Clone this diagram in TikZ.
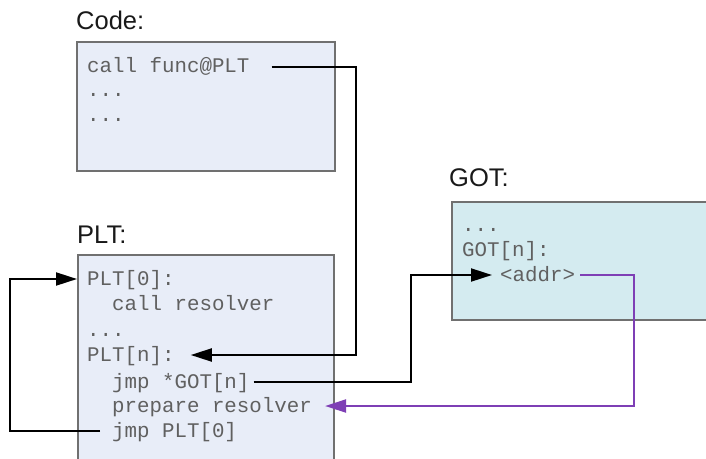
\documentclass[tikz,border=0pt]{standalone}
\usepackage{fontspec}
\setmainfont{Liberation Sans}
\newfontfamily\codefont{Liberation Mono}
\usetikzlibrary{arrows.meta}
\definecolor{boxfill}{HTML}{E8EDF8}
\definecolor{gotfill}{HTML}{D4EBF0}
\definecolor{boxline}{HTML}{707070}
\definecolor{codetext}{HTML}{606060}
\definecolor{purp}{HTML}{7E3FB5}
\tikzset{
  title/.style={anchor=base west, inner sep=0pt, font=\fontsize{25.5}{25.5}\selectfont, text=black!90},
  code/.style={anchor=base west, inner sep=0pt, text height=12pt, text depth=0pt,
    font=\codefont\fontsize{20.8}{20.8}\selectfont, text=codetext},
  memblock/.style={draw=boxline, line width=1.6pt},
  conn/.style={line width=2pt, black, -{Triangle[length=21pt,width=13pt]}},
  pconn/.style={line width=2pt, purp, -{Triangle[length=21pt,width=13pt]}},
}
\begin{document}
\begin{tikzpicture}[x=1pt,y=-1pt]
\useasboundingbox (0,0) rectangle (706,458);
\clip (0,0) rectangle (706,458);
% boxes
\fill[boxfill] (77,42) rectangle (335,171);
\draw[memblock] (77,42) rectangle (335,171);
\fill[boxfill] (78,255) rectangle (334,470);
\draw[memblock] (78,470) -- (78,255) -- (334,255) -- (334,470);
\fill[gotfill] (452,202) rectangle (712,320);
\draw[memblock] (712,202) -- (452,202) -- (452,320) -- (712,320);
% titles
\node[title] (tcode) at (76,29) {Code:};
\node[title] (tplt) at (77,243) {PLT:};
\node[title] (tgot) at (449,186) {GOT:};
% code
\node[code] (callf) at (87,72.5) {call func@PLT};
\node[code] (cd1) at (87,96) {...};
\node[code] (cd2) at (87,121) {...};
% PLT
\node[code] (plt0) at (87,285) {PLT[0]:};
\node[code] (callres) at (87,310) {\ \ call resolver};
\node[code] (pd) at (87,336) {...};
\node[code] (pltn) at (87,361) {PLT[n]:};
\node[code] (jmpgot) at (87,388) {\ \ jmp *GOT[n]};
\node[code] (prep) at (87,412) {\ \ prepare resolver};
\node[code] (jmpplt) at (87,437) {\ \ jmp PLT[0]};
% GOT
\node[code] (gd) at (462,231) {...};
\node[code] (gotn) at (462,256) {GOT[n]:};
\node[code] (addr) at (500,281) {<addr>};
% bend points
\coordinate (b1) at (356,200);
\coordinate (b2) at (411,330);
\coordinate (b3) at (634,340);
\coordinate (b4) at (10,350);
% connectors
\draw[conn] ([xshift=22pt]callf.east) -| (b1) |- ([xshift=16pt]pltn.east);
\draw[conn] ([xshift=4pt]jmpgot.east) -| (b2) |- ([xshift=-8pt]addr.west);
\draw[pconn] ([xshift=5pt]addr.east) -| (b3) |- ([xshift=13pt]prep.east);
\draw[conn] ([xshift=13pt]jmpplt.west) -| (b4) |- ([xshift=-10pt]plt0.west);
\end{tikzpicture}
\end{document}
